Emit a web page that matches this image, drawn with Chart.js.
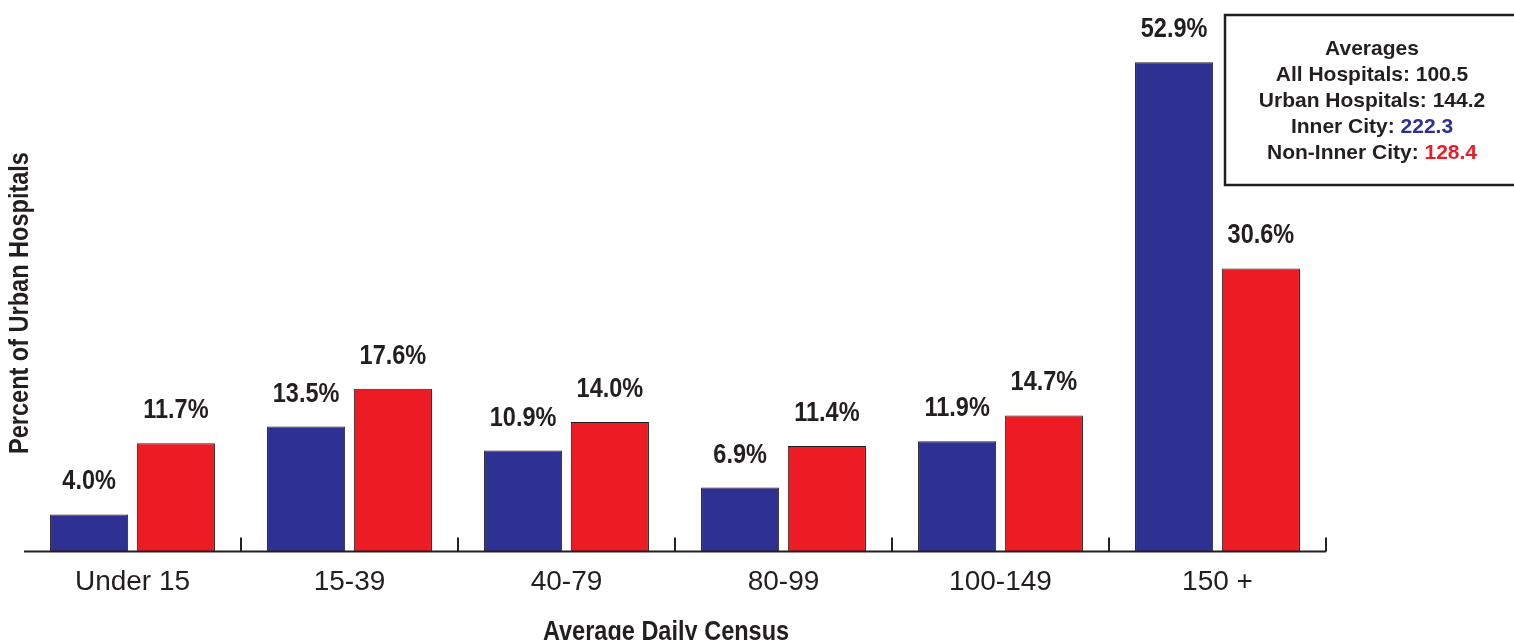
<!DOCTYPE html>
<html>
<head>
<meta charset="utf-8">
<script src="https://cdn.jsdelivr.net/npm/chart.js@4.4.1/dist/chart.umd.min.js"></script>
<style>
  html, body { margin: 0; padding: 0; background: #fff; }
  #wrap { width: 1514px; height: 640px; position: relative; }
</style>
</head>
<body>
<div id="wrap"><canvas id="chart"></canvas></div>
<script>
const categories = ['Under 15', '15-39', '40-79', '80-99', '100-149', '150 +']
const innerCity = [4.0, 13.5, 10.9, 6.9, 11.9, 52.9]
const nonInnerCity = [11.7, 17.6, 14.0, 11.4, 14.7, 30.6]
const averageLines = [
  ['Averages', null],
  ['All Hospitals: 100.5', null],
  ['Urban Hospitals: 144.2', null],
  ['Inner City: ', '222.3'],
  ['Non-Inner City: ', '128.4']
]

const BLUE = '#2e3192'
const RED = '#ed1c24'
const INK = '#231f20'
const SANS = '"Liberation Sans", Arial, sans-serif'

// texto condensado: se aplasta horizontalmente la fuente normal
function narrowText(ctx, text, x, y, angle) {
  ctx.save()
  ctx.translate(x, y)
  if (angle) ctx.rotate(angle)
  ctx.scale(0.84, 1)
  ctx.fillText(text, 0, 0)
  ctx.restore()
}

// etiquetas, ejes y cuadro de promedios
const decor = {
  id: 'decor',
  afterDatasetsDraw(chart) {
    const ctx = chart.ctx
    const area = chart.chartArea
    const n = categories.length

    // linea del eje y marcas entre categorias
    ctx.save()
    ctx.strokeStyle = INK
    ctx.lineWidth = 2
    ctx.beginPath()
    ctx.moveTo(area.left, area.bottom)
    ctx.lineTo(area.right, area.bottom)
    for (let i = 1; i <= n; i++) {
      const x = Math.round(area.left + i * (area.right - area.left) / n)
      ctx.moveTo(x, area.bottom)
      ctx.lineTo(x, area.bottom - 14)
    }
    ctx.stroke()

    // valores encima de las barras
    ctx.fillStyle = INK
    ctx.font = 'bold 28px ' + SANS
    ctx.textAlign = 'center'
    ctx.textBaseline = 'alphabetic'
    chart.data.datasets.forEach((ds, di) => {
      chart.getDatasetMeta(di).data.forEach((bar, i) => {
        narrowText(ctx, ds.data[i].toFixed(1) + '%', bar.x, bar.y - 25)
      })
    })

    // titulos de ejes
    narrowText(ctx, 'Percent of Urban Hospitals', 28, 303, -Math.PI / 2)
    narrowText(ctx, 'Average Daily Census', 666, 640)

    // cuadro de promedios
    ctx.lineWidth = 2.5
    ctx.strokeRect(1225, 15, 300, 170)
    ctx.font = 'bold 21px ' + SANS
    const cx = 1372
    averageLines.forEach((ln, i) => {
      const y = 55 + i * 26
      const w1 = ctx.measureText(ln[0]).width
      const w2 = ln[1] ? ctx.measureText(ln[1]).width : 0
      const x0 = cx - (w1 + w2) / 2
      ctx.textAlign = 'left'
      ctx.fillStyle = INK
      ctx.fillText(ln[0], x0, y)
      if (ln[1]) {
        ctx.fillStyle = i === 3 ? BLUE : RED
        ctx.fillText(ln[1], x0 + w1, y)
      }
    })
    ctx.restore()
  }
}

new Chart(document.getElementById('chart'), {
  type: 'bar',
  data: {
    labels: categories,
    datasets: [
      { label: 'Inner City', data: innerCity, backgroundColor: BLUE, borderColor: INK, borderWidth: 1 },
      { label: 'Non-Inner City', data: nonInnerCity, backgroundColor: RED, borderColor: INK, borderWidth: 1 }
    ]
  },
  options: {
    responsive: true,
    maintainAspectRatio: false,
    animation: false,
    categoryPercentage: 0.8,
    barPercentage: 0.9,
    layout: { padding: { left: 24, right: 188, top: 15, bottom: 35 } },
    plugins: { legend: { display: false }, tooltip: { enabled: false } },
    scales: {
      x: {
        grid: { display: false },
        border: { display: false },
        ticks: { color: INK, font: { family: SANS, size: 28 }, padding: 6, maxRotation: 0 }
      },
      y: { display: false, min: 0, max: 58 }
    }
  },
  plugins: [decor]
})
</script>
</body>
</html>
